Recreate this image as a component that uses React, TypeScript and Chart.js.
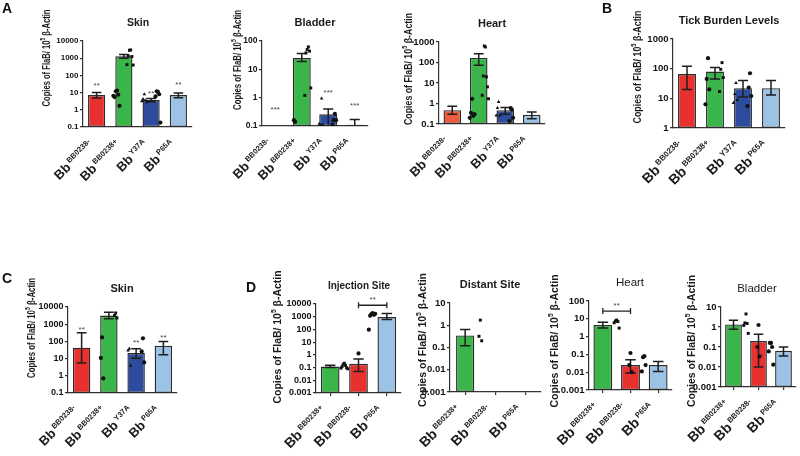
import React, { useEffect, useRef } from 'react';
import { Chart, registerables } from 'chart.js';

Chart.register(...registerables);

const FONT = '"Liberation Sans", Arial, Helvetica, sans-serif';
const PREFIX = 'Bb';
const Y_LABEL = ['Copies of FlaB/ 10', '5', ' \u03b2-Actin'];

// ---------- categories ----------
const CATS_ABC = ['BB0238-', 'BB0238+', 'Y37A', 'P65A'];
const CATS_D = ['BB0238+', 'BB0238-', 'P65A'];

// ---------- tick labels ----------
const TICKS_A_SKIN = ['10000', '1000', '100', '10', '1', '0.1'];
const TICKS_A_BLADDER = ['100', '10', '1', '0.1'];
const TICKS_A_HEART = ['1000', '100', '10', '1', '0.1'];
const TICKS_B = ['1000', '100', '10', '1'];
const TICKS_C = ['10000', '1000', '100', '10', '1', '0.1'];
const TICKS_D_INJ = ['10000', '1000', '100', '10', '1', '0.1', '0.01', '0.001'];
const TICKS_D_DIST = ['10', '1', '0.1', '0.01', '0.001'];
const TICKS_D_HEART = ['100', '10', '1', '0.1', '0.01', '0.001'];
const TICKS_D_BLADDER = ['10', '1', '0.1', '0.01', '0.001'];

// ---------- A: Skin ----------
const A_SKIN_MEAN = [7.2, 1300, 3.7, 7.2];
const A_SKIN_HI = [10, 1650, 4.5, 9.5];
const A_SKIN_LO = [4.9, 1000, 2.9, 5];
const A_SKIN_PTS = [[13, 12, 7.5, 5.5, 1.7, 6.5], [3000, 2900, 1250, 1350, 400, 420], [8, 4.2, 3.6, 3.2, 2.8], [11, 12, 8, 6, 0.18]];
const A_SKIN_STARS = ['**', '', '**', '**'];
const A_SKIN_STAR_AT = [25, null, 9, 27];

// ---------- A: Bladder ----------
const A_BLADDER_MEAN = [null, 25, 0.26, 0.11];
const A_BLADDER_HI = [null, 36, 0.4, 0.17];
const A_BLADDER_LO = [null, 19, 0.1, 0.1];
const A_BLADDER_PTS = [[0.14, 0.16], [62, 50, 44, 38, 2.2, 1.2], [0.93, 0.11, 0.11, 0.12], [0.27, 0.16, 0.16, 0.11]];
const A_BLADDER_STARS = ['***', '', '***', '***'];
const A_BLADDER_STAR_AT = [0.37, null, 1.5, 0.52];

// ---------- A: Heart ----------
const A_HEART_MEAN = [0.47, 167, 0.47, 0.28];
const A_HEART_HI = [0.73, 270, 0.63, 0.39];
const A_HEART_LO = [0.3, 74, 0.3, 0.18];
const A_HEART_PTS = [[1.7, 0.35, 0.25, 0.2, 0.3], [570, 640, 20, 22, 6.5, 2.5, 1.7], [1.2, 0.6, 0.26, 0.26], [0.5, 0.6, 0.2, 0.14]];

// ---------- B: Tick burden ----------
const B_MEAN = [66, 80, 22, 22];
const B_HI = [120, 110, 40, 40];
const B_LO = [20, 45, 11, 13];
const B_PTS = [[225, 45, 20, 6.3], [160, 95, 50, 17], [33, 14, 8.8, 7], [70, 23, 12, 5.5]];

// ---------- C: Skin ----------
const C_MEAN = [43, 3200, 21, 55];
const C_HI = [320, 5000, 38, 100];
const C_LO = [5.5, 2100, 10.5, 17];
const C_PTS = [[170, 11, 0.7], [4500, 3200, 2300], [38, 30, 3.9], [150, 26, 6]];
const C_STARS = ['**', '', '**', '**'];
const C_STAR_AT = [500, null, 85, 170];

// ---------- D: Injection site ----------
const D_INJ_MEAN = [0.12, 0.2, 950];
const D_INJ_HI = [0.15, 0.48, 1800];
const D_INJ_LO = [0.1, 0.05, 600];
const D_INJ_PTS = [[0.22, 0.18, 0.15, 0.12, 0.1, 0.09, 0.08], [1.3], [1900, 1600, 1400, 1200, 1700, 95]];
const D_INJ_BRACKET = { from: 1, to: 2, at: 8000, text: '**' };

// ---------- D: Distant site ----------
const D_DIST_MEAN = [0.35, null, null];
const D_DIST_HI = [0.64, null, null];
const D_DIST_LO = [0.12, null, null];
const D_DIST_PTS = [[1.7, 0.32, 0.2], [], []];

// ---------- D: Heart ----------
const D_HEART_MEAN = [4.5, 0.025, 0.025];
const D_HEART_HI = [6.5, 0.05, 0.04];
const D_HEART_LO = [3, 0.009, 0.011];
const D_HEART_PTS = [[8.5, 7.5, 7, 6, 3], [0.12, 0.025, 0.01], [0.08, 0.07, 0.025, 0.011]];
const D_HEART_BRACKET = { from: 0, to: 1, at: 27, text: '**' };

// ---------- D: Bladder ----------
const D_BLADDER_MEAN = [1.35, 0.2, 0.065];
const D_BLADDER_HI = [2.2, 0.43, 0.1];
const D_BLADDER_LO = [0.77, 0.01, 0.035];
const D_BLADDER_PTS = [[4.5, 1.6, 1.5, 1.2, 0.48], [1.26, 0.1, 0.034], [0.16, 0.16, 0.1, 0.06, 0.013]];

// ---------- styles ----------
const RED = '#e8302e';
const ORANGE = '#ee5b3d';
const GREEN = '#3ab54a';
const DBLUE = '#2e4c9d';
const LBLUE = '#9cc2e6';
const COLORS_ABC = [RED, GREEN, DBLUE, LBLUE];
const COLORS_A_HEART = [ORANGE, GREEN, DBLUE, LBLUE];
const COLORS_D = [GREEN, RED, LBLUE];
const SHAPES_ABC = ['circle', 'rect', 'triangle', 'circle'];
const SHAPES_D = ['rect', 'circle', 'circle'];

type Bracket = { from: number; to: number; at: number; text: string };
type Cfg = {
  title: string; titleBold: boolean; titleSize: number; titleX: number; titleY: number;
  cats: string[]; colors: string[]; shapes: string[];
  means: (number | null)[]; hi: (number | null)[]; lo: (number | null)[]; points: number[][];
  ticks: string[]; tickSize: number;
  stars?: string[]; starAt?: (number | null)[];
  bracket?: Bracket;
  rect: [number, number, number, number];
  yl: { x: number; y: number; len: number; size: number };
  bb: number; sup: number; dx: number; dy: number; raise: number;
  xTicks: boolean; barPct: number;
};

const A_LAB = { bb: 13, sup: 7.5, dx: -6, dy: 15, raise: 5 };
const D_LAB = { bb: 14, sup: 7.5, dx: -7, dy: 15, raise: 5.5 };

const PANELS: Cfg[] = [
  {
    title: 'Skin', titleBold: true, titleSize: 10.5, titleX: 138, titleY: 23,
    cats: CATS_ABC, colors: COLORS_ABC, shapes: SHAPES_ABC,
    means: A_SKIN_MEAN, hi: A_SKIN_HI, lo: A_SKIN_LO, points: A_SKIN_PTS,
    ticks: TICKS_A_SKIN, tickSize: 8, stars: A_SKIN_STARS, starAt: A_SKIN_STAR_AT,
    rect: [83, 41, 192, 127], yl: { x: 47, y: 58, len: 97, size: 10 }, ...A_LAB, xTicks: false, barPct: 0.63,
  },
  {
    title: 'Bladder', titleBold: true, titleSize: 11, titleX: 315, titleY: 23,
    cats: CATS_ABC, colors: COLORS_ABC, shapes: SHAPES_ABC,
    means: A_BLADDER_MEAN, hi: A_BLADDER_HI, lo: A_BLADDER_LO, points: A_BLADDER_PTS,
    ticks: TICKS_A_BLADDER, tickSize: 8.5, stars: A_BLADDER_STARS, starAt: A_BLADDER_STAR_AT,
    rect: [262, 41, 368, 126], yl: { x: 238, y: 60, len: 100, size: 10 }, ...A_LAB, xTicks: false, barPct: 0.68,
  },
  {
    title: 'Heart', titleBold: true, titleSize: 11, titleX: 492, titleY: 24,
    cats: CATS_ABC, colors: COLORS_A_HEART, shapes: SHAPES_ABC,
    means: A_HEART_MEAN, hi: A_HEART_HI, lo: A_HEART_LO, points: A_HEART_PTS,
    ticks: TICKS_A_HEART, tickSize: 9.5,
    rect: [439, 42, 545, 124], yl: { x: 409, y: 69, len: 112, size: 10 }, ...A_LAB, xTicks: false, barPct: 0.66,
  },
  {
    title: 'Tick Burden Levels', titleBold: true, titleSize: 11, titleX: 729, titleY: 21,
    cats: CATS_ABC, colors: COLORS_ABC, shapes: SHAPES_ABC,
    means: B_MEAN, hi: B_HI, lo: B_LO, points: B_PTS,
    ticks: TICKS_B, tickSize: 9.5,
    rect: [673, 39, 785, 128], yl: { x: 638, y: 67, len: 113, size: 10 }, bb: 14, sup: 8, dx: -6, dy: 15, raise: 5.5, xTicks: false, barPct: 0.64,
  },
  {
    title: 'Skin', titleBold: true, titleSize: 11, titleX: 122, titleY: 289,
    cats: CATS_ABC, colors: COLORS_ABC, shapes: SHAPES_ABC,
    means: C_MEAN, hi: C_HI, lo: C_LO, points: C_PTS,
    ticks: TICKS_C, tickSize: 9, stars: C_STARS, starAt: C_STAR_AT,
    rect: [68, 307, 177, 393], yl: { x: 32, y: 328, len: 100, size: 10 }, ...A_LAB, xTicks: false, barPct: 0.64,
  },
  {
    title: 'Injection Site', titleBold: true, titleSize: 10, titleX: 359, titleY: 286,
    cats: CATS_D, colors: COLORS_D, shapes: SHAPES_D,
    means: D_INJ_MEAN, hi: D_INJ_HI, lo: D_INJ_LO, points: D_INJ_PTS,
    ticks: TICKS_D_INJ, tickSize: 9, bracket: D_INJ_BRACKET,
    rect: [316, 304, 401, 393], yl: { x: 278, y: 337, len: 133, size: 11 }, ...D_LAB, xTicks: true, barPct: 0.66,
  },
  {
    title: 'Distant Site', titleBold: true, titleSize: 11, titleX: 490, titleY: 285,
    cats: CATS_D, colors: COLORS_D, shapes: SHAPES_D,
    means: D_DIST_MEAN, hi: D_DIST_HI, lo: D_DIST_LO, points: D_DIST_PTS,
    ticks: TICKS_D_DIST, tickSize: 9.5,
    rect: [450, 303, 541, 392], yl: { x: 423, y: 340, len: 134, size: 11 }, ...D_LAB, xTicks: true, barPct: 0.6,
  },
  {
    title: 'Heart', titleBold: false, titleSize: 11.5, titleX: 630, titleY: 283,
    cats: CATS_D, colors: COLORS_D, shapes: SHAPES_D,
    means: D_HEART_MEAN, hi: D_HEART_HI, lo: D_HEART_LO, points: D_HEART_PTS,
    ticks: TICKS_D_HEART, tickSize: 9.5, bracket: D_HEART_BRACKET,
    rect: [589, 301, 672, 390], yl: { x: 555, y: 341, len: 133, size: 11 }, ...D_LAB, xTicks: true, barPct: 0.68,
  },
  {
    title: 'Bladder', titleBold: false, titleSize: 11.5, titleX: 757, titleY: 289,
    cats: CATS_D, colors: COLORS_D, shapes: SHAPES_D,
    means: D_BLADDER_MEAN, hi: D_BLADDER_HI, lo: D_BLADDER_LO, points: D_BLADDER_PTS,
    ticks: TICKS_D_BLADDER, tickSize: 9.5,
    rect: [721, 307, 799, 387], yl: { x: 692, y: 341, len: 132, size: 11 }, ...D_LAB, xTicks: true, barPct: 0.67,
  },
];

const LETTERS = [
  { t: 'A', x: 7, y: 8 },
  { t: 'B', x: 607, y: 8 },
  { t: 'C', x: 7, y: 278 },
  { t: 'D', x: 251, y: 287 },
];

// horizontal spread of dots inside a column (alternating left/right of centre)
function spread(j: number, count: number): number {
  const step = Math.min(0.09, 0.55 / Math.max(count, 1));
  const k = Math.ceil(j / 2);
  return (j % 2 === 1 ? -k : k) * step;
}

function drawYLabel(ctx: CanvasRenderingContext2D, yl: Cfg['yl']) {
  ctx.save();
  ctx.translate(yl.x, yl.y);
  ctx.rotate(-Math.PI / 2);
  const main = `bold ${yl.size}px ${FONT}`;
  const small = `bold ${yl.size * 0.65}px ${FONT}`;
  const widths = Y_LABEL.map((t, k) => {
    ctx.font = k === 1 ? small : main;
    return ctx.measureText(t).width;
  });
  const total = widths.reduce((a, b) => a + b, 0);
  ctx.scale(yl.len / total, 1);
  let cx = -total / 2;
  ctx.textAlign = 'left';
  ctx.textBaseline = 'middle';
  Y_LABEL.forEach((t, k) => {
    ctx.font = k === 1 ? small : main;
    ctx.fillText(t, cx, k === 1 ? -yl.size * 0.35 : 0);
    cx += widths[k];
  });
  ctx.restore();
}

function makeDecor(c: Cfg) {
  return {
    id: 'decor',
    afterDatasetDraw(chart: any, args: any) {
      if (args.index !== 0) return;
      const { ctx, scales } = chart;
      const x = scales.x;
      const y = scales.y;
      const band = (chart.chartArea.right - chart.chartArea.left) / c.cats.length;
      const cap = band * c.barPct * 0.28;
      ctx.save();
      ctx.strokeStyle = '#1e1e1e';
      ctx.lineWidth = 1.5;
      c.means.forEach((m, i) => {
        const h = c.hi[i];
        const l = c.lo[i];
        if (m == null || h == null || l == null) return;
        const px = x.getPixelForValue(i);
        const top = y.getPixelForValue(h);
        const lowV = Math.max(l, y.min);
        const bot = y.getPixelForValue(lowV);
        ctx.beginPath();
        ctx.moveTo(px, top);
        ctx.lineTo(px, bot);
        ctx.moveTo(px - cap, top);
        ctx.lineTo(px + cap, top);
        if (l > y.min * 1.05) {
          ctx.moveTo(px - cap, bot);
          ctx.lineTo(px + cap, bot);
        }
        ctx.stroke();
      });
      ctx.restore();
    },
    afterDraw(chart: any) {
      const { ctx, chartArea, scales } = chart;
      const x = scales.x;
      const y = scales.y;
      ctx.save();
      ctx.fillStyle = '#1a1a1a';
      // title
      ctx.font = `${c.titleBold ? 'bold ' : ''}${c.titleSize}px ${FONT}`;
      ctx.textAlign = 'center';
      ctx.textBaseline = 'middle';
      ctx.fillText(c.title, c.titleX, c.titleY);
      // y label
      drawYLabel(ctx, c.yl);
      // x labels
      c.cats.forEach((cat, i) => {
        const px = x.getPixelForValue(i);
        ctx.save();
        ctx.translate(px + c.dx, chartArea.bottom + c.dy);
        ctx.rotate(-Math.PI / 4);
        ctx.textAlign = 'right';
        ctx.textBaseline = 'alphabetic';
        ctx.font = `bold ${c.sup}px ${FONT}`;
        ctx.fillText(cat, 0, 0);
        const w = ctx.measureText(cat).width;
        ctx.font = `bold ${c.bb}px ${FONT}`;
        ctx.fillText(PREFIX, -w - 2, c.raise);
        ctx.restore();
      });
      // significance stars
      if (c.stars && c.starAt) {
        ctx.fillStyle = '#444';
        ctx.font = `8px ${FONT}`;
        ctx.textAlign = 'center';
        ctx.textBaseline = 'middle';
        c.stars.forEach((s, i) => {
          const v = c.starAt![i];
          if (!s || v == null) return;
          ctx.fillText(s, x.getPixelForValue(i), y.getPixelForValue(v));
        });
      }
      // bracket
      if (c.bracket) {
        const b = c.bracket;
        const x1 = x.getPixelForValue(b.from);
        const x2 = x.getPixelForValue(b.to);
        const py = y.getPixelForValue(b.at);
        ctx.strokeStyle = '#222';
        ctx.lineWidth = 1.3;
        ctx.beginPath();
        ctx.moveTo(x1, py);
        ctx.lineTo(x2, py);
        ctx.moveTo(x1, py - 3);
        ctx.lineTo(x1, py + 3);
        ctx.moveTo(x2, py - 3);
        ctx.lineTo(x2, py + 3);
        ctx.stroke();
        ctx.fillStyle = '#444';
        ctx.font = `8px ${FONT}`;
        ctx.textAlign = 'center';
        ctx.textBaseline = 'middle';
        ctx.fillText(b.text, (x1 + x2) / 2, py - 5);
      }
      ctx.restore();
    },
  };
}

function Panel({ cfg }: { cfg: Cfg }) {
  const ref = useRef<HTMLCanvasElement>(null);
  useEffect(() => {
    if (!ref.current) return;
    const [l, t, r, b] = cfg.rect;
    const YW = 30;
    const XH = 4;
    const tickVals = cfg.ticks.map(Number);
    const n = cfg.cats.length;
    const datasets: any[] = [
      {
        type: 'bar',
        data: cfg.means,
        backgroundColor: cfg.colors,
        borderColor: '#2b2b2b',
        borderWidth: 1.4,
        borderSkipped: false,
        barPercentage: cfg.barPct,
        categoryPercentage: 1,
        grouped: false,
        order: 10,
        xAxisID: 'x',
        yAxisID: 'y',
      },
      ...cfg.points.map((pts, i) => ({
        type: 'scatter',
        xAxisID: 'xp',
        yAxisID: 'y',
        order: 0,
        data: pts.map((v, j) => ({ x: i + spread(j, pts.length), y: v })),
        pointStyle: cfg.shapes[i],
        pointRadius: 2.1,
        backgroundColor: '#111',
        borderColor: '#111',
        borderWidth: 0,
      })),
    ];
    const chart = new Chart(ref.current, {
      type: 'bar',
      data: { labels: cfg.cats, datasets },
      options: {
        animation: false,
        responsive: false,
        devicePixelRatio: 1,
        layout: { padding: { left: l - YW, top: t, right: 800 - r, bottom: 456 - b - XH } },
        plugins: { legend: { display: false }, title: { display: false }, tooltip: { enabled: false } },
        scales: {
          x: {
            type: 'category',
            offset: true,
            grid: { display: cfg.xTicks, drawOnChartArea: false, drawTicks: true, tickLength: 3, offset: false, color: '#333', lineWidth: 1.2 },
            border: { display: true, color: '#333', width: 1.2 },
            ticks: { display: false },
            afterFit: (s: any) => { s.height = XH; },
          },
          xp: { type: 'linear', display: false, min: -0.5, max: n - 0.5 },
          y: {
            type: 'logarithmic',
            min: Math.min(...tickVals),
            max: Math.max(...tickVals),
            afterBuildTicks: (s: any) => { s.ticks = tickVals.map((v) => ({ value: v })); },
            afterFit: (s: any) => { s.width = YW; },
            grid: { drawOnChartArea: false, drawTicks: true, tickLength: 3, color: '#333', lineWidth: 1.2 },
            border: { display: true, color: '#333', width: 1.2 },
            ticks: {
              autoSkip: false,
              padding: 1.5,
              color: '#111',
              font: { family: FONT, size: cfg.tickSize, weight: 'bold' },
              callback: (v: any) => cfg.ticks[tickVals.indexOf(Number(v))] ?? '',
            },
          },
        },
      } as any,
      plugins: [makeDecor(cfg)],
    });
    return () => chart.destroy();
  }, [cfg]);
  return (
    <canvas
      ref={ref}
      width={800}
      height={456}
      style={{ position: 'absolute', left: 0, top: 0, width: 800, height: 456 }}
    />
  );
}

export default function App() {
  useEffect(() => {
    document.body.style.margin = '0';
  }, []);
  return (
    <div style={{ position: 'absolute', left: 0, top: 0, width: 800, height: 456, background: '#fff', overflow: 'hidden' }}>
      {PANELS.map((p, i) => (
        <Panel key={i} cfg={p} />
      ))}
      {LETTERS.map((L) => (
        <div
          key={L.t}
          style={{
            position: 'absolute',
            left: L.x - 6,
            top: L.y - 8,
            width: 12,
            textAlign: 'center',
            font: `bold 14px ${FONT}`,
            lineHeight: '16px',
            color: '#111',
          }}
        >
          {L.t}
        </div>
      ))}
    </div>
  );
}
